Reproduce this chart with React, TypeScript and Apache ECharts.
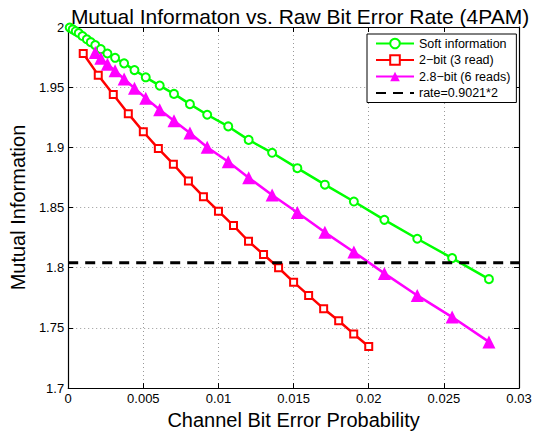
import React, { useEffect, useRef } from "react";
import * as echarts from "echarts";

const softX = [0.0001, 0.0003, 0.0005, 0.0007, 0.00095, 0.00124, 0.0015, 0.0018, 0.00217, 0.00261, 0.00312, 0.00372, 0.00441, 0.00516, 0.00609, 0.00704, 0.0081, 0.00925, 0.01065, 0.01201, 0.01357, 0.01525, 0.01708, 0.01901, 0.02104, 0.02323, 0.02555, 0.028];
const softY = [1.9995, 1.998, 1.9965, 1.995, 1.9925, 1.9898, 1.9874, 1.985, 1.9816, 1.978, 1.9744, 1.9698, 1.9642, 1.9582, 1.9513, 1.9444, 1.9359, 1.9271, 1.9174, 1.9062, 1.8955, 1.8827, 1.869, 1.855, 1.8398, 1.8241, 1.808, 1.7905];

const twoBitX = [0.001, 0.002, 0.003, 0.004, 0.005, 0.006, 0.007, 0.008, 0.009, 0.01, 0.011, 0.012, 0.013, 0.014, 0.015, 0.016, 0.017, 0.018, 0.019, 0.02];
const twoBitY = [1.978, 1.96, 1.944, 1.928, 1.913, 1.899, 1.886, 1.872, 1.859, 1.847, 1.835, 1.822, 1.811, 1.8, 1.788, 1.777, 1.766, 1.756, 1.745, 1.7345];

const sixReadX = [0.0018, 0.00217, 0.00261, 0.00312, 0.00372, 0.00441, 0.00516, 0.00609, 0.00704, 0.0081, 0.00925, 0.01065, 0.01201, 0.01357, 0.01525, 0.01708, 0.01901, 0.02104, 0.02323, 0.02555, 0.028];
const sixReadY = [1.9789, 1.974, 1.969, 1.9637, 1.9568, 1.9491, 1.9409, 1.9312, 1.9221, 1.912, 1.9001, 1.888, 1.8748, 1.8604, 1.8459, 1.8294, 1.8131, 1.7953, 1.777, 1.759, 1.7384];

const rateX = [0, 0.03];
const rateValue = 0.9021 * 2;

const seriesNames = ["Soft information", "2\u2212bit (3 read)", "2.8\u2212bit (6 reads)", "rate=0.9021*2"];
const titleText = "Mutual Informaton vs. Raw Bit Error Rate (4PAM)";
const xName = "Channel Bit Error Probability";
const yName = "Mutual Information";

const FONT = "Liberation Sans, Arial, Helvetica, sans-serif";

const zip = (xs: number[], ys: number[]) => xs.map((x, i) => [x, ys[i]]);

export default function App() {
  const ref = useRef<HTMLDivElement>(null);
  useEffect(() => {
    if (!ref.current) return;
    const chart = echarts.init(ref.current, undefined, { renderer: "svg" });
    const tickStyle = { show: true, inside: true, length: 5, lineStyle: { color: "#000", width: 1 } };
    const axisLine = { show: true, onZero: false, lineStyle: { color: "#000", width: 1.2 } };
    const gridLine = { show: true, lineStyle: { color: "#999", type: [1, 3] as any, width: 1 } };
    chart.setOption({
      animation: false,
      backgroundColor: "#fff",
      title: {
        text: titleText,
        left: 295,
        textAlign: "center",
        top: 1,
        textStyle: { fontFamily: FONT, fontSize: 21, fontWeight: "normal", color: "#000" },
      },
      legend: {
        left: 367,
        top: 34,
        orient: "vertical",
        itemWidth: 38,
        itemHeight: 12,
        itemGap: 3.5,
        padding: [3, 6, 3, 8],
        borderColor: "#000",
        borderWidth: 1,
        backgroundColor: "#fff",
        data: [
          { name: seriesNames[0] },
          { name: seriesNames[1] },
          { name: seriesNames[2] },
          { name: seriesNames[3], itemStyle: { opacity: 0 } },
        ],
        textStyle: { fontFamily: FONT, fontSize: 12.5, color: "#000" },
      },
      grid: { left: 67, right: 25, top: 27, bottom: 45 },
      xAxis: [
        {
          type: "value",
          position: "bottom",
          min: 0,
          max: 0.03,
          interval: 0.005,
          name: xName,
          nameLocation: "middle",
          nameGap: 18,
          nameTextStyle: { fontFamily: FONT, fontSize: 20, color: "#000" },
          axisLine,
          axisTick: tickStyle,
          splitLine: gridLine,
          axisLabel: {
            fontFamily: FONT,
            fontSize: 13,
            color: "#000",
            margin: 4,
            formatter: (v: number) => String(Math.round(v * 1000) / 1000),
          },
        },
        {
          type: "value",
          position: "top",
          min: 0,
          max: 0.03,
          interval: 0.005,
          axisLine,
          axisTick: tickStyle,
          splitLine: { show: false },
          axisLabel: { show: false },
        },
      ],
      yAxis: [
        {
          type: "value",
          position: "left",
          min: 1.7,
          max: 2,
          interval: 0.05,
          name: yName,
          nameLocation: "middle",
          nameGap: 36,
          nameTextStyle: { fontFamily: FONT, fontSize: 20, color: "#000" },
          axisLine,
          axisTick: tickStyle,
          splitLine: gridLine,
          axisLabel: {
            fontFamily: FONT,
            fontSize: 13,
            color: "#000",
            margin: 4,
            formatter: (v: number) => String(Math.round(v * 100) / 100),
          },
        },
        {
          type: "value",
          position: "right",
          min: 1.7,
          max: 2,
          interval: 0.05,
          axisLine,
          axisTick: tickStyle,
          splitLine: { show: false },
          axisLabel: { show: false },
        },
      ],
      series: [
        {
          name: seriesNames[0],
          type: "line",
          data: zip(softX, softY),
          symbol: "emptyCircle",
          symbolSize: 8,
          showAllSymbol: true,
          lineStyle: { color: "#00ff00", width: 2.5 },
          itemStyle: { color: "#00ff00", borderWidth: 2 },
          z: 3,
        },
        {
          name: seriesNames[1],
          type: "line",
          data: zip(twoBitX, twoBitY),
          symbol: "emptyRect",
          symbolSize: 7,
          showAllSymbol: true,
          lineStyle: { color: "#ff0000", width: 2.5 },
          itemStyle: { color: "#ff0000", borderWidth: 2.5 },
          z: 3,
        },
        {
          name: seriesNames[2],
          type: "line",
          data: zip(sixReadX, sixReadY),
          symbol: "triangle",
          symbolSize: 13,
          showAllSymbol: true,
          lineStyle: { color: "#ff00ff", width: 2.5 },
          itemStyle: { color: "#ff00ff" },
          z: 3,
        },
        {
          name: seriesNames[3],
          type: "line",
          data: rateX.map((x) => [x, rateValue]),
          symbol: "none",
          lineStyle: { color: "#000", width: 3, type: [10, 7] as any },
          itemStyle: { color: "#000" },
          z: 4,
        },
      ],
    });
    return () => chart.dispose();
  }, []);
  return <div ref={ref} style={{ position: "fixed", left: 0, top: 0, width: 544, height: 435 }} />;
}
